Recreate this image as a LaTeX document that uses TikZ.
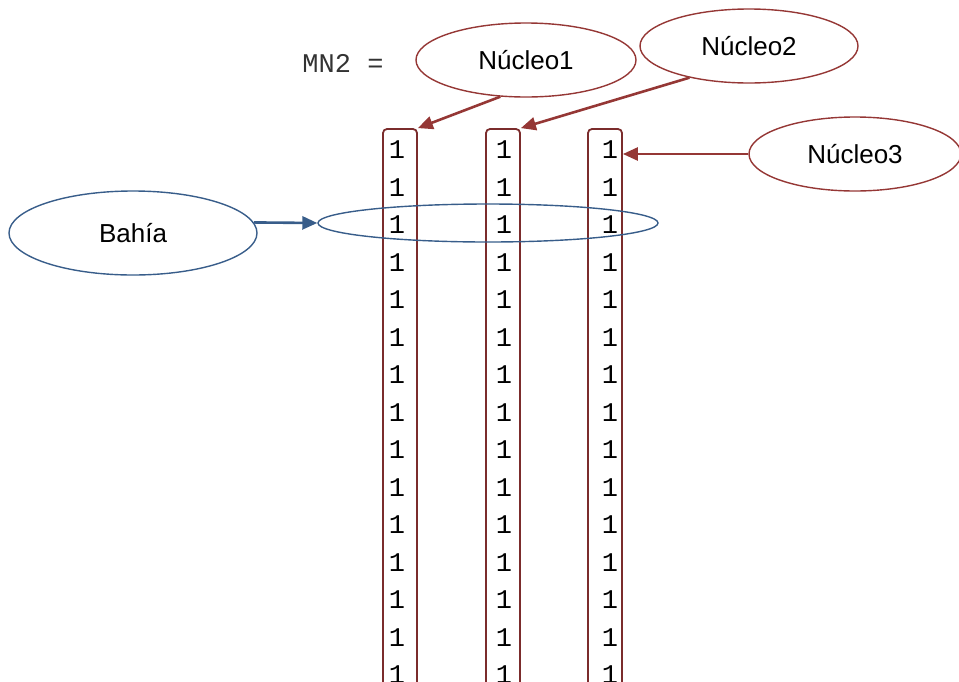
\documentclass[tikz,border=0pt]{standalone}
\usepackage{fontspec}
\setmainfont{Liberation Sans}
\setmonofont{Liberation Mono}
\usetikzlibrary{shapes,arrows.meta}
\tikzset{>={Triangle[length=15pt,width=13pt]}}
\definecolor{nred}{HTML}{953735}
\definecolor{nblue}{HTML}{385D8A}
\definecolor{colred}{HTML}{7B2C2C}
\tikzset{
  bubble/.style = {ellipse, draw, line width=1.4pt, inner sep=0pt, font=\fontsize{26}{26}\selectfont},
  colbox/.style = {draw=colred, line width=1.8pt, rounded corners=4pt, inner sep=0pt, minimum width=34pt},
  digit/.style = {font=\ttfamily\fontsize{27}{27}\selectfont, text=black, inner sep=0pt},
  pointer/.style = {->, line width=2.6pt}
}

\begin{document}
\begin{tikzpicture}[x=1pt,y=-1pt]
  \useasboundingbox (0,0) rectangle (959,681);
  \clip (0,0) rectangle (959,681);
  % matrix name
  \node (mn) [digit, text=black!80] at (343,63) {MN2 =};
  % columns
  \node (col1) [colbox, minimum height=591pt] at (400,424.5) {};
  \node (col2) [colbox, minimum height=591pt] at (503,424.5) {};
  \node (col3) [colbox, minimum height=591pt] at (605,424.5) {};
  % entries
  \foreach \c/\x in {1/397,2/504,3/610}
    \foreach \r in {1,...,15}
      \node (c\c r\r) [digit] at (\x,{150+37.5*(\r-1)}) {1};
  % row
  \node (bay) [ellipse, draw=nblue, line width=1.4pt, minimum width=340pt, minimum height=38pt] at (488,223) {};
  % labels
  \node (n1) [bubble, draw=nred, minimum width=220pt, minimum height=74pt] at (526,60) {Núcleo1};
  \node (n2) [bubble, draw=nred, minimum width=218pt, minimum height=74pt] at (749,46) {Núcleo2};
  \node (n3) [bubble, draw=nred, minimum width=212pt, minimum height=74pt] at (855,154) {Núcleo3};
  \node (bahia) [bubble, draw=nblue, minimum width=248pt, minimum height=84pt] at (133,233) {Bahía};
  % arrows
  \draw[pointer,nred] (n1.235) -- (col1.north east);
  \draw[pointer,nred] (n2.208) -- (col2.north east);
  \draw[pointer,nred] (n3.west) -- (col3.east |- n3.west);
  \draw[pointer,nblue] (bahia.5) -- (bay.west);
\end{tikzpicture}
\end{document}
